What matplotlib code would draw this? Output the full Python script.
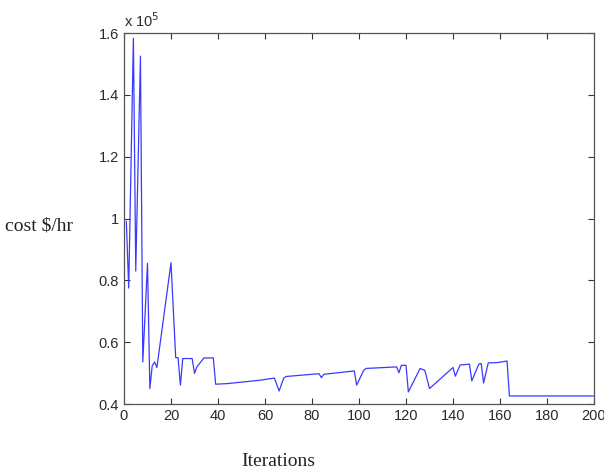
import matplotlib
matplotlib.use("Agg")
import matplotlib.pyplot as plt
import matplotlib.ticker as mticker

# Cost per iteration (values in units of 1e5 $/hr)
iterations = [1, 2, 4, 5, 7, 8, 10, 11, 12, 13, 14, 20, 22, 23, 24, 25, 29, 30, 31,
              34, 38, 39, 44, 58, 64, 66, 68, 69, 83, 84, 85, 98, 99, 102, 103,
              116, 117, 118, 120, 121, 126, 128, 130, 140, 141, 143, 147, 148,
              151, 152, 153, 155, 159, 163, 164, 200]
cost = [0.99, 0.775, 1.583, 0.83, 1.525, 0.536, 0.855, 0.45, 0.523, 0.536, 0.518,
        0.857, 0.55, 0.55, 0.461, 0.547, 0.547, 0.499, 0.52, 0.549, 0.549, 0.464,
        0.466, 0.477, 0.484, 0.442, 0.484, 0.489, 0.498, 0.485, 0.496, 0.507,
        0.461, 0.509, 0.515, 0.52, 0.501, 0.525, 0.525, 0.439, 0.515, 0.509,
        0.45, 0.518, 0.49, 0.526, 0.529, 0.475, 0.529, 0.531, 0.468, 0.533,
        0.534, 0.539, 0.426, 0.426]

x_ticks = list(range(0, 201, 20))
y_ticks = [0.4, 0.6, 0.8, 1.0, 1.2, 1.4, 1.6]

fig = plt.figure(figsize=(6.04, 4.72), dpi=100)
ax = fig.add_axes([124 / 604, 1 - 404 / 472, 470 / 604, 371 / 472])

ax.plot(iterations, cost, color="#3a3aff", linewidth=0.9)

ax.set_xlim(0, 200)
ax.set_ylim(0.4, 1.6)
ax.set_xticks(x_ticks)
ax.set_yticks(y_ticks)
ax.yaxis.set_major_formatter(mticker.FuncFormatter(lambda v, _: f"{v:g}"))
ax.tick_params(direction="in", length=4, width=0.8, top=True, right=True,
               labelsize=10.5, colors="#333333", labelcolor="#2a2a2a")
for lbl in ax.get_xticklabels() + ax.get_yticklabels():
    lbl.set_family("Liberation Sans")
for spine in ax.spines.values():
    spine.set_edgecolor("#555555")
    spine.set_linewidth(0.9)

# MATLAB-style exponent label
ax.text(0, 1.008, r"x 10$^5$", transform=ax.transAxes, ha="left", va="bottom",
        fontsize=10.5, family="Liberation Sans", color="#2a2a2a")

# Axis labels placed as in the reference (serif, y label horizontal)
fig.text(73 / 604, 1 - 226 / 472, "cost \\$/hr", ha="right", va="center",
         fontsize=14, family="Liberation Serif", color="#222222")
fig.text(278 / 604, 1 - 462 / 472, "Iterations", ha="center", va="center",
         fontsize=14, family="Liberation Serif", color="#222222")

fig.savefig("out.png", dpi=100, facecolor="white")
